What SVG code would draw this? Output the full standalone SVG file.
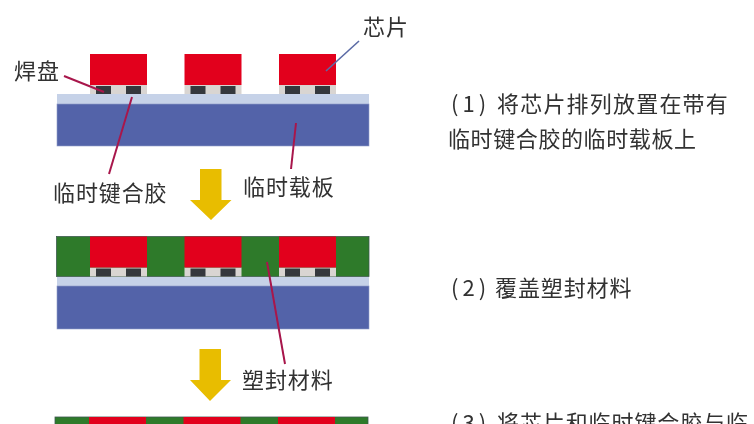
<svg xmlns="http://www.w3.org/2000/svg" width="754" height="424" viewBox="0 0 754 424">
<style>
text{font-family:"Noto Sans CJK SC","Liberation Sans",sans-serif;font-size:22px;fill:#303030;letter-spacing:.9px}
.num{letter-spacing:4px}.wide{letter-spacing:1.2px}.tight{letter-spacing:.6px}
.chip{fill:#e2001f}.gap{fill:#d9d5d2}.pad{fill:#36383c}.glue{fill:#c6d2e8}.carrier{fill:#5364a9;stroke:#8f9ac8;stroke-width:.6}.mold{fill:#2e7a2b;stroke:#3d5a50;stroke-width:.8}.arrow{fill:#e8bd00}
.lead{stroke:#a8174c;stroke-width:2;fill:none}.leadb{stroke:#5a6aa5;stroke-width:1.6;fill:none}
</style>
<defs><filter id="s" x="-2%" y="-2%" width="104%" height="104%"><feGaussianBlur stdDeviation="0.45"/></filter>
<filter id="t" x="-2%" y="-5%" width="104%" height="110%"><feGaussianBlur stdDeviation="0.3"/></filter>
<g id="unit"><rect class="gap" x="0" y="31" width="57" height="9"/><rect class="chip" width="57" height="31"/><rect class="pad" x="6" y="32" width="15" height="8"/><rect class="pad" x="36" y="32" width="15" height="8"/></g></defs>
<rect width="754" height="424" fill="#fff"/>
<g filter="url(#s)">
<g id="step1">
<rect class="glue" x="57" y="94" width="312" height="10"/><rect class="carrier" x="57" y="104" width="312" height="42"/>
<use href="#unit" x="90" y="54"/><use href="#unit" x="184.500" y="54"/><use href="#unit" x="279" y="54"/>
</g>
<g id="step2">
<rect class="mold" x="56.500" y="236.500" width="312.500" height="40"/>
<rect class="glue" x="57" y="277" width="312" height="9"/><rect class="carrier" x="57" y="286" width="312" height="43"/>
<use href="#unit" x="90" y="236.500"/><use href="#unit" x="184.500" y="236.500"/><use href="#unit" x="279" y="236.500"/>
</g>
<g id="step3">
<rect class="mold" x="55" y="417" width="313" height="10"/>
<rect class="chip" x="89" y="417" width="57" height="10"/><rect class="chip" x="183.500" y="417" width="57" height="10"/><rect class="chip" x="278" y="417" width="57" height="10"/>
</g>
<g id="arrow1"><polygon class="arrow" points="200,169 221.500,169 221.500,200 231.500,200 211,220 190,200 200,200"/></g>
<g id="arrow2"><polygon class="arrow" points="199.500,349 221,349 221,380 231,380 210,401 190,380 199.500,380"/></g>
<g id="connectors">
<line class="lead" x1="64" y1="76" x2="104" y2="92"/>
<line class="lead" x1="132" y1="97" x2="109" y2="174"/>
<line class="lead" x1="296" y1="123" x2="291" y2="169"/>
<line class="lead" x1="267" y1="262" x2="285" y2="364"/>
<line class="leadb" x1="359" y1="41" x2="326" y2="71"/>
</g>
</g>
<g id="labels" filter="url(#t)">
<text x="363" y="35">芯片</text>
<text x="14" y="79">焊盘</text>
<text x="53" y="201">临时键合胶</text>
<text x="243" y="195">临时载板</text>
<text x="242" y="388">塑封材料</text>
<text x="451" y="112"><tspan class="num">(1)</tspan><tspan class="wide" x="497">将芯片排列放置在带有</tspan></text>
<text class="tight" x="448" y="147">临时键合胶的临时载板上</text>
<text x="451" y="296"><tspan class="num">(2)</tspan><tspan x="495">覆盖塑封材料</tspan></text>
<text x="451" y="431"><tspan class="num">(3)</tspan><tspan x="497">将芯片和临时键合胶与临</tspan></text>
</g>
</svg>
